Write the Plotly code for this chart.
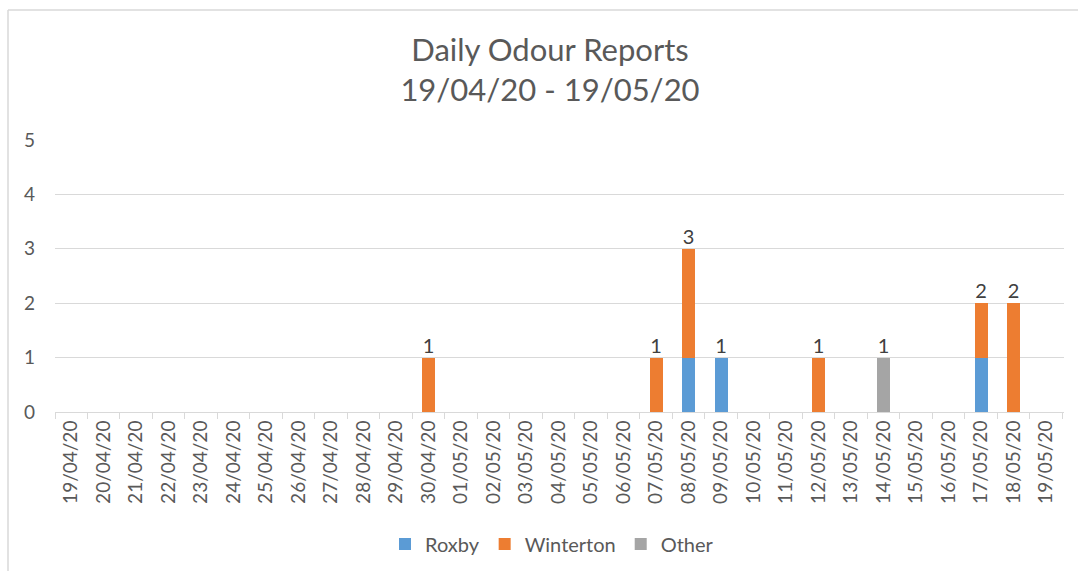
import plotly.graph_objects as go

dates = ["19/04/20", "20/04/20", "21/04/20", "22/04/20", "23/04/20", "24/04/20",
         "25/04/20", "26/04/20", "27/04/20", "28/04/20", "29/04/20", "30/04/20",
         "01/05/20", "02/05/20", "03/05/20", "04/05/20", "05/05/20", "06/05/20",
         "07/05/20", "08/05/20", "09/05/20", "10/05/20", "11/05/20", "12/05/20",
         "13/05/20", "14/05/20", "15/05/20", "16/05/20", "17/05/20", "18/05/20",
         "19/05/20"]
roxby = [0]*11 + [0, 0, 0, 0, 0, 0, 0, 0, 1, 1, 0, 0, 0, 0, 0, 0, 0, 1, 0, 0]
winterton = [0]*11 + [1, 0, 0, 0, 0, 0, 0, 1, 2, 0, 0, 0, 1, 0, 0, 0, 0, 1, 2, 0]
other = [0]*11 + [0, 0, 0, 0, 0, 0, 0, 0, 0, 0, 0, 0, 0, 0, 1, 0, 0, 0, 0, 0]
y_ticks = [0, 1, 2, 3, 4, 5]

FONT = "Lato"
GREY_TXT = "#595959"
LINE = "#d9d9d9"

totals = [r + w + o for r, w, o in zip(roxby, winterton, other)]
lab_x = [d for d, t in zip(dates, totals) if t > 0]
lab_y = [t for t in totals if t > 0]

fig = go.Figure()
fig.add_trace(go.Bar(name="Roxby", x=dates, y=roxby, marker_color="#5B9BD5", marker_line_width=0))
fig.add_trace(go.Bar(name="Winterton", x=dates, y=winterton, marker_color="#ED7D31", marker_line_width=0))
fig.add_trace(go.Bar(name="Other", x=dates, y=other, marker_color="#A5A5A5", marker_line_width=0))
fig.add_trace(go.Scatter(x=lab_x, y=lab_y, mode="text", text=[str(v) for v in lab_y],
                         textposition="top center", showlegend=False, hoverinfo="skip",
                         cliponaxis=False,
                         textfont=dict(family=FONT, size=20, color="#404040")))

W, H = 1078, 571
L, R, T, B = 55, 14, 140, 159
pw = W - L - R
ph = H - T - B

def px(x):
    return (x - L) / pw

def py(y):
    return (H - B - y) / ph

fig.update_layout(
    width=W, height=H,
    margin=dict(l=L, r=R, t=T, b=B, autoexpand=False),
    barmode="stack",
    bargap=0.6,
    plot_bgcolor="white",
    paper_bgcolor="white",
    font=dict(family=FONT, color=GREY_TXT, size=19),
    title=dict(text="Daily Odour Reports<br>19/04/20 - 19/05/20",
               x=550 / W, xanchor="center", y=1 - 61 / H, yanchor="top",
               font=dict(family=FONT, size=31, color=GREY_TXT)),
    showlegend=True,
    legend=dict(orientation="h", x=px(552), xanchor="center", y=py(544), yanchor="middle",
                font=dict(family=FONT, size=20, color=GREY_TXT), traceorder="normal",
                itemwidth=30),
    xaxis=dict(type="category", categoryorder="array", categoryarray=dates,
               tickangle=-90, showgrid=False, showline=True, linecolor=LINE, linewidth=1,
               ticks="outside", tickson="boundaries", ticklen=6, tickcolor=LINE,
               automargin=False,
               tickfont=dict(family=FONT, size=19, color=GREY_TXT), fixedrange=True),
    yaxis=dict(range=[0, 5], tickvals=y_ticks, showgrid=True, gridcolor=LINE, gridwidth=1,
               zeroline=False, showline=False, ticks="", ticklabelstandoff=19,
               automargin=False,
               tickfont=dict(family=FONT, size=19, color=GREY_TXT), fixedrange=True),
    shapes=[
        dict(type="line", xref="paper", yref="paper", x0=px(8), x1=px(1080), y0=py(10), y1=py(10),
             line=dict(color=LINE, width=1.5)),
        dict(type="line", xref="paper", yref="paper", x0=px(8), x1=px(8), y0=py(10), y1=py(575),
             line=dict(color=LINE, width=1.5)),
    ],
)

fig.write_html("out.html",
               config={"displayModeBar": False},
               post_script="document.body.style.margin='0';document.body.style.overflow='hidden';")
